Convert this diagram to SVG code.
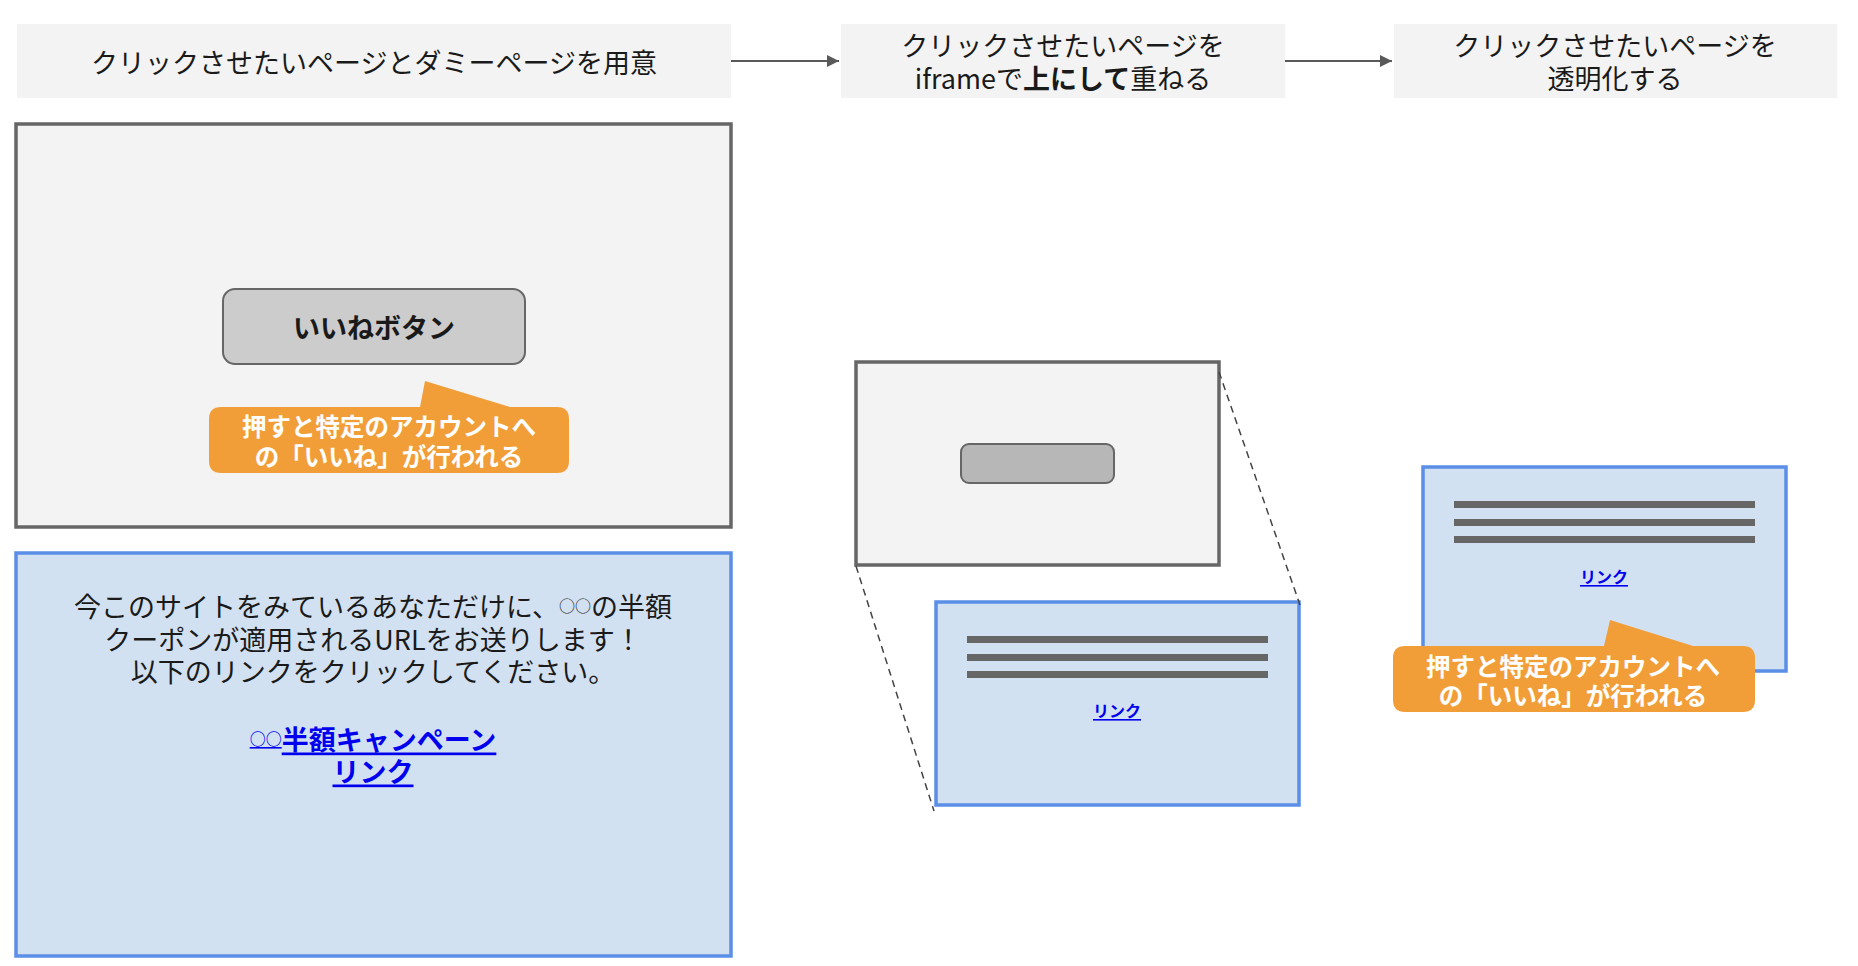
<svg xmlns="http://www.w3.org/2000/svg" width="1858" height="966" viewBox="0 0 1858 966">
<defs>
<style>
text{font-family:"Noto Sans CJK JP","Noto Sans",sans-serif;fill:#1a1a1a;text-anchor:middle;dominant-baseline:central}
.hdr{fill:#f3f3f3}
.h{font-size:27px}
.page{fill:#f3f3f3;stroke:#666666;stroke-width:3.5}
.dummy{fill:#d2e1f1;stroke:#5b8ee6;stroke-width:3.5}
.btn{fill:#cccccc;stroke:#666666;stroke-width:2}
.call{fill:#f29e38}
.ct{font-size:24.5px;font-weight:bold;fill:#ffffff}
.bar{fill:#666666}
.lnk{fill:#0000ee;font-weight:bold;text-decoration:underline}
.b{font-size:27px}
.o{font-size:16px}
.arr{stroke:#595959;stroke-width:2;fill:none}
.dash{stroke:#444444;stroke-width:1.5;fill:none;stroke-dasharray:7 5}
</style>
<marker id="ah" viewBox="0 0 10 10" refX="10" refY="5" markerWidth="6" markerHeight="6" orient="auto" markerUnits="strokeWidth">
<path d="M0,0 L10,5 L0,10 z" fill="#595959"/>
</marker>
</defs>
<rect width="1858" height="966" fill="#ffffff"/>

<g id="step1">
<rect class="hdr" x="17" y="24" width="714" height="74"/>
<text class="h" x="374" y="61">クリックさせたいページとダミーページを用意</text>
</g>
<g id="step2">
<rect class="hdr" x="841" y="24" width="444" height="74"/>
<text class="h" x="1063" y="44">クリックさせたいページを</text>
<text class="h" x="1063" y="77">iframeで<tspan font-weight="bold">上にして</tspan>重ねる</text>
</g>
<g id="step3">
<rect class="hdr" x="1394" y="24" width="443" height="74"/>
<text class="h" x="1615" y="44">クリックさせたいページを</text>
<text class="h" x="1615" y="77">透明化する</text>
</g>

<g id="target-page">
<rect class="page" x="16" y="124" width="715" height="403"/>
<rect class="btn" x="223" y="289" width="302" height="75" rx="12"/>
<text x="374" y="326" font-size="27" font-weight="bold" fill="#000">いいねボタン</text>
</g>
<g id="callout1">
<path class="call" d="M221,407 H420 L425,381 L510,407 H557 Q569,407 569,419 V461 Q569,473 557,473 H221 Q209,473 209,461 V419 Q209,407 221,407 Z"/>
<text class="ct" x="389" y="425">押すと特定のアカウントへ</text>
<text class="ct" x="389" y="455">の「いいね」が行われる</text>
</g>

<g id="dummy-page">
<rect class="dummy" x="16" y="553" width="715" height="403"/>
<text class="b" x="373" y="605">今このサイトをみているあなただけに、<tspan class="o">○○</tspan>の半額</text>
<text class="b" x="373" y="638">クーポンが適用されるURLをお送りします！</text>
<text class="b" x="373" y="670">以下のリンクをクリックしてください。</text>
<text class="lnk b" x="373" y="738"><tspan class="o">○○</tspan>半額キャンペーン</text>
<text class="lnk b" x="373" y="770">リンク</text>
</g>

<g id="overlay-dummy">
<rect class="dummy" x="936" y="602" width="363" height="203"/>
<rect class="bar" x="967" y="636" width="301" height="7"/>
<rect class="bar" x="967" y="654" width="301" height="7"/>
<rect class="bar" x="967" y="671" width="301" height="7"/>
<text class="lnk" x="1117" y="710" font-size="16">リンク</text>
</g>
<g id="overlay-target">
<rect class="page" x="856" y="362" width="363" height="203"/>
<rect x="961" y="444" width="153" height="39" rx="8" fill="#b7b7b7" stroke="#666666" stroke-width="2"/>
</g>

<g id="transparent-page">
<rect class="dummy" x="1423" y="467" width="363" height="204"/>
<rect class="bar" x="1454" y="501" width="301" height="7"/>
<rect class="bar" x="1454" y="519" width="301" height="7"/>
<rect class="bar" x="1454" y="536" width="301" height="7"/>
<text class="lnk" x="1604" y="576" font-size="16">リンク</text>
</g>
<g id="callout2">
<path class="call" d="M1405,646 H1604 L1610,620 L1693,646 H1743 Q1755,646 1755,658 V700 Q1755,712 1743,712 H1405 Q1393,712 1393,700 V658 Q1393,646 1405,646 Z"/>
<text class="ct" x="1573" y="665">押すと特定のアカウントへ</text>
<text class="ct" x="1573" y="694">の「いいね」が行われる</text>
</g>

<g id="connectors">
<line class="arr" x1="731" y1="61" x2="839" y2="61" marker-end="url(#ah)"/>
<line class="arr" x1="1285" y1="61" x2="1392" y2="61" marker-end="url(#ah)"/>
<line class="dash" x1="856" y1="566" x2="934" y2="811"/>
<line class="dash" x1="1219" y1="372" x2="1300" y2="605"/>
</g>
</svg>
